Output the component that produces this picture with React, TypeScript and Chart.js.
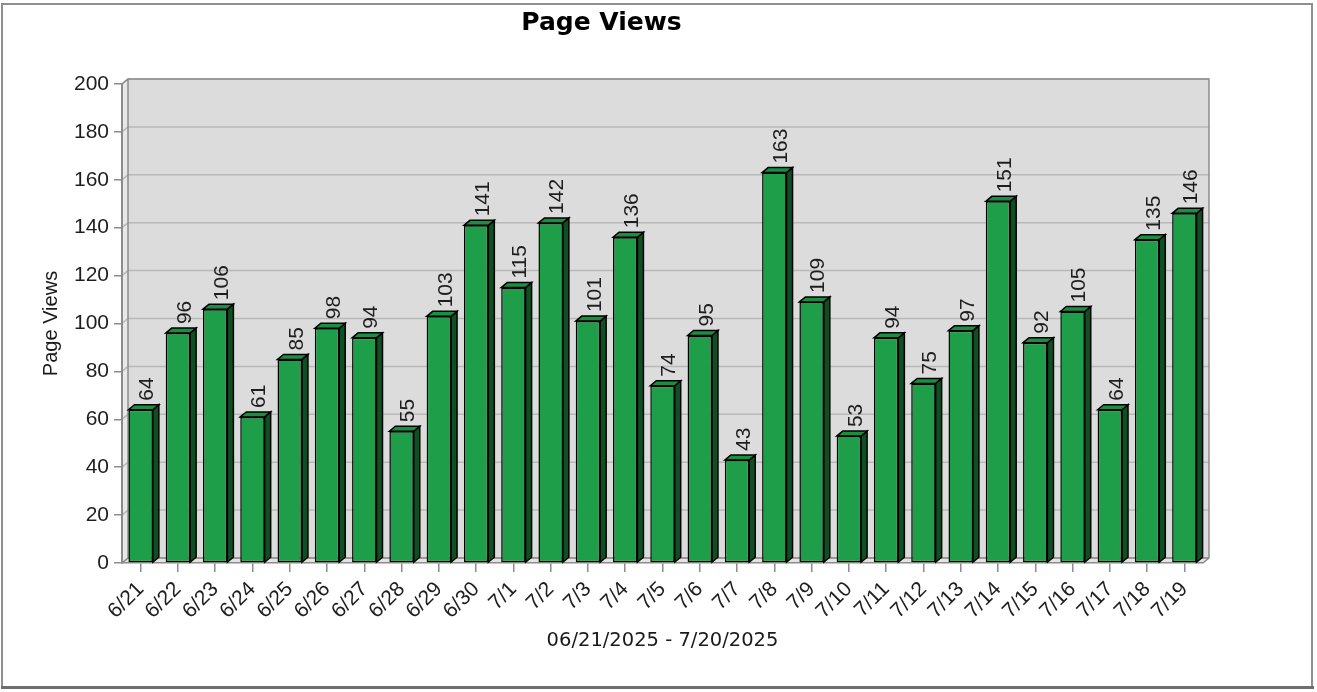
import React, { useEffect, useRef } from 'react';
import { Chart, registerables } from 'chart.js';

Chart.register(...registerables);

const chartTitle = 'Page Views';
const yAxisTitle = 'Page Views';
const xAxisTitle = '06/21/2025 - 7/20/2025';

const categories = [
  '6/21', '6/22', '6/23', '6/24', '6/25', '6/26', '6/27', '6/28', '6/29', '6/30',
  '7/1', '7/2', '7/3', '7/4', '7/5', '7/6', '7/7', '7/8', '7/9', '7/10',
  '7/11', '7/12', '7/13', '7/14', '7/15', '7/16', '7/17', '7/18', '7/19',
];

const pageViews = [
  64, 96, 106, 61, 85, 98, 94, 55, 103, 141,
  115, 142, 101, 136, 74, 95, 43, 163, 109, 53,
  94, 75, 97, 151, 92, 105, 64, 135, 146,
];

const yMin = 0;
const yMax = 200;
const yStep = 20;

const DX = 6;
const DY = 5;

const depthPlugin = {
  id: 'depth3d',
  beforeDraw(chart: any) {
    const { ctx, chartArea } = chart;
    const { left, right, top, bottom } = chartArea;
    ctx.save();
    ctx.fillStyle = '#ffffff';
    ctx.fillRect(0, 0, chart.width, chart.height);

    // frame
    ctx.strokeStyle = '#8f8f8f';
    ctx.lineWidth = 2;
    ctx.strokeRect(2, 4, 1310, 683);
    ctx.fillStyle = '#6e6e6e';
    ctx.fillRect(1, 686, 1313, 3);

    // left wall
    ctx.fillStyle = '#e8e8e8';
    ctx.beginPath();
    ctx.moveTo(left, bottom);
    ctx.lineTo(left, top);
    ctx.lineTo(left + DX, top - DY);
    ctx.lineTo(left + DX, bottom - DY);
    ctx.closePath();
    ctx.fill();

    // floor
    ctx.fillStyle = '#e4e4e4';
    ctx.beginPath();
    ctx.moveTo(left, bottom);
    ctx.lineTo(right, bottom);
    ctx.lineTo(right + DX, bottom - DY);
    ctx.lineTo(left + DX, bottom - DY);
    ctx.closePath();
    ctx.fill();

    // back wall
    ctx.fillStyle = '#dcdcdc';
    ctx.fillRect(left + DX, top - DY, right - left, bottom - top);

    // grid lines on back wall
    const ys = chart.scales.y;
    ctx.strokeStyle = '#b8b8b8';
    ctx.lineWidth = 1.5;
    ys.ticks.forEach((t: any) => {
      const py = ys.getPixelForValue(t.value);
      ctx.beginPath();
      ctx.moveTo(left, py);
      ctx.lineTo(left + DX, py - DY);
      ctx.lineTo(right + DX, py - DY);
      ctx.stroke();
    });

    // outlines
    ctx.strokeStyle = '#8c8c8c';
    ctx.lineWidth = 1.5;
    ctx.beginPath();
    ctx.moveTo(left, top);
    ctx.lineTo(left + DX, top - DY);
    ctx.lineTo(right + DX, top - DY);
    ctx.lineTo(right + DX, bottom - DY);
    ctx.lineTo(right, bottom);
    ctx.moveTo(left + DX, top - DY);
    ctx.lineTo(left + DX, bottom - DY);
    ctx.lineTo(right + DX, bottom - DY);
    ctx.moveTo(left, bottom);
    ctx.lineTo(left + DX, bottom - DY);
    ctx.stroke();
    ctx.restore();
  },
  afterDatasetsDraw(chart: any) {
    const { ctx } = chart;
    const meta = chart.getDatasetMeta(0);
    const data = chart.data.datasets[0].data;
    ctx.save();
    ctx.lineWidth = 1.5;
    ctx.strokeStyle = '#000000';
    meta.data.forEach((bar: any, i: number) => {
      const { x, y, base, width } = bar.getProps(['x', 'y', 'base', 'width'], true);
      const l = x - width / 2;
      const r = x + width / 2;
      // side face
      ctx.fillStyle = '#0e5022';
      ctx.beginPath();
      ctx.moveTo(r, y);
      ctx.lineTo(r + DX, y - DY);
      ctx.lineTo(r + DX, base - DY);
      ctx.lineTo(r, base);
      ctx.closePath();
      ctx.fill();
      ctx.stroke();
      // top face
      ctx.fillStyle = '#1a8f3f';
      ctx.beginPath();
      ctx.moveTo(l, y);
      ctx.lineTo(l + DX, y - DY);
      ctx.lineTo(r + DX, y - DY);
      ctx.lineTo(r, y);
      ctx.closePath();
      ctx.fill();
      ctx.stroke();
      // value label
      ctx.save();
      ctx.translate(x + 7, y - DY - 4);
      ctx.rotate(-Math.PI / 2);
      ctx.font = '21px "Liberation Sans", Arial, sans-serif';
      ctx.fillStyle = '#1e1e1e';
      ctx.textAlign = 'left';
      ctx.textBaseline = 'middle';
      ctx.fillText(String(data[i]), 0, 0);
      ctx.restore();
    });
    ctx.restore();
  },
};

export default function App() {
  const canvasRef = useRef<HTMLCanvasElement | null>(null);

  useEffect(() => {
    const canvas = canvasRef.current;
    if (!canvas) return;
    const chart = new Chart(canvas, {
      type: 'bar',
      data: {
        labels: categories,
        datasets: [
          {
            label: chartTitle,
            data: pageViews,
            backgroundColor: '#1e9e48',
            borderColor: '#000000',
            borderWidth: 1.5,
            borderSkipped: false,
            barPercentage: 0.655,
            categoryPercentage: 1,
          },
        ],
      },
      options: {
        responsive: false,
        devicePixelRatio: 1,
        animation: false,
        layout: { padding: { top: 0, left: 0, right: 114, bottom: 0 } },
        plugins: {
          legend: { display: false },
          tooltip: { enabled: false },
          title: {
            display: true,
            text: chartTitle,
            color: '#000000',
            font: { family: '"DejaVu Sans", Verdana, sans-serif', weight: 'bold', size: 25 },
            padding: { top: 8, bottom: 46 },
          },
        },
        scales: {
          x: {
            afterFit: (scale: any) => {
              scale.height = 129;
            },
            grid: {
              display: true,
              drawOnChartArea: false,
              drawTicks: true,
              offset: false,
              tickLength: 9,
              color: '#8c8c8c',
              lineWidth: 1.5,
            },
            border: { display: true, color: '#8c8c8c', width: 1.5 },
            ticks: {
              autoSkip: false,
              minRotation: 45,
              maxRotation: 45,
              padding: 5,
              color: '#1e1e1e',
              font: { family: '"Liberation Sans", Arial, sans-serif', size: 21 },
            },
            title: {
              display: true,
              text: xAxisTitle,
              color: '#1a1a1a',
              font: { family: '"DejaVu Sans", Verdana, sans-serif', size: 19.5 },
              padding: { top: 0, bottom: 39.3 },
            },
          },
          y: {
            min: yMin,
            max: yMax,
            afterFit: (scale: any) => {
              scale.width = 122;
            },
            grid: {
              display: true,
              drawOnChartArea: false,
              drawTicks: true,
              tickLength: 8,
              color: '#8c8c8c',
              lineWidth: 1.5,
            },
            border: { display: true, color: '#8c8c8c', width: 2 },
            ticks: {
              stepSize: yStep,
              padding: 5,
              color: '#1e1e1e',
              font: { family: '"Liberation Sans", Arial, sans-serif', size: 21 },
            },
            title: {
              display: true,
              text: yAxisTitle,
              color: '#1a1a1a',
              font: { family: '"Liberation Sans", Arial, sans-serif', size: 20 },
              padding: { top: 39, bottom: 0 },
            },
          },
        },
      },
      plugins: [depthPlugin],
    });
    return () => chart.destroy();
  }, []);

  return (
    <div style={{ position: 'absolute', left: 0, top: 0, width: 1317, height: 692 }}>
      <canvas ref={canvasRef} width={1317} height={692} />
    </div>
  );
}
